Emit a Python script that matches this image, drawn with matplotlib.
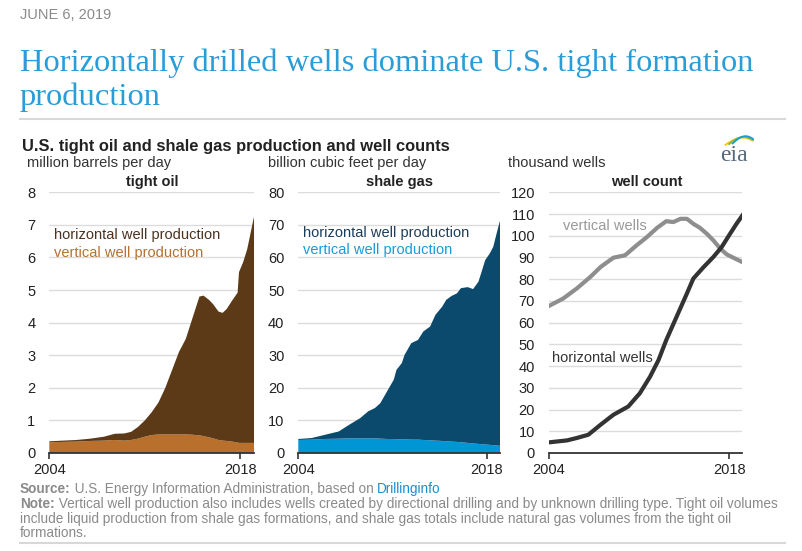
import matplotlib
matplotlib.use("Agg")
import matplotlib.pyplot as plt
import numpy as np

plt.rcParams['font.family'] = ['Liberation Sans', 'DejaVu Sans']

# tight oil, million barrels per day
oil_years = [2004, 2005, 2006, 2007, 2008, 2008.8, 2009.5, 2010, 2010.5, 2011, 2011.5,
             2012, 2012.5, 2013, 2013.5, 2014, 2014.5, 2015, 2015.3, 2015.7, 2016,
             2016.4, 2016.7, 2017, 2017.4, 2017.8, 2017.9, 2018.2, 2018.5, 2018.8, 2019.0]
oil_vertical = [0.33, 0.34, 0.35, 0.37, 0.38, 0.40, 0.38, 0.40, 0.44, 0.50, 0.55,
                0.57, 0.57, 0.57, 0.57, 0.57, 0.56, 0.54, 0.52, 0.48, 0.45,
                0.40, 0.38, 0.37, 0.35, 0.32, 0.31, 0.31, 0.31, 0.31, 0.31]
oil_horizontal = [0.03, 0.04, 0.05, 0.07, 0.12, 0.19, 0.22, 0.25, 0.36, 0.50, 0.70,
                  0.98, 1.43, 1.98, 2.53, 2.93, 3.59, 4.26, 4.31, 4.22, 4.12,
                  3.94, 3.92, 4.05, 4.33, 4.60, 5.24, 5.54, 5.94, 6.54, 6.94]

# shale gas, billion cubic feet per day
gas_years = [2004, 2005, 2006, 2007, 2007.8, 2008.6, 2009.2, 2009.7, 2010.1, 2010.6, 2011.1,
             2011.3, 2011.7, 2011.9, 2012.4, 2012.9, 2013.3, 2013.8, 2014.2, 2014.7, 2015.0,
             2015.4, 2015.8, 2016.1, 2016.6, 2017.0, 2017.4, 2017.6, 2017.9, 2018.25, 2018.5,
             2018.75, 2019.0]
gas_vertical = [4.0, 4.1, 4.3, 4.4, 4.5, 4.5, 4.5, 4.5, 4.4, 4.3, 4.3,
                4.2, 4.2, 4.2, 4.1, 4.1, 4.0, 3.9, 3.8, 3.7, 3.6,
                3.5, 3.4, 3.3, 3.1, 2.9, 2.8, 2.7, 2.6, 2.5, 2.4, 2.3, 2.2]
gas_horizontal = [0.3, 0.5, 1.3, 2.2, 4.2, 6.2, 8.3, 9.3, 10.9, 14.6, 18.2,
                  21.3, 23.4, 25.9, 29.6, 30.6, 33.3, 34.9, 38.6, 41.2, 43.4,
                  44.7, 45.6, 47.3, 47.8, 47.4, 49.8, 52.5, 56.6, 58.8, 60.9, 65.1, 69.1]

# well count, thousand wells
vw_years = [2004, 2005.1, 2006.15, 2007.2, 2008.0, 2009.0, 2009.9, 2010.8, 2011.6, 2012.4,
            2013.1, 2013.65, 2014.2, 2014.7, 2015.2, 2015.7, 2016.25, 2016.75, 2017.3,
            2017.8, 2018.3, 2019.0]
vw_count = [67.7, 71.1, 75.7, 81.0, 85.6, 89.9, 91.0, 95.6, 99.4, 103.7,
            106.7, 106.3, 107.8, 107.8, 105.5, 103.7, 100.9, 97.9, 94.0,
            91.4, 89.9, 87.9]
hw_years = [2004, 2005.4, 2006.15, 2007.05, 2008.0, 2009.0, 2010.15, 2011.05, 2011.85, 2012.5,
            2013.1, 2013.9, 2014.7, 2015.2, 2016.0, 2016.75, 2017.4, 2018.05, 2018.55, 2019.0]
hw_count = [4.9, 5.8, 6.9, 8.4, 13.0, 17.6, 21.4, 27.5, 35.2, 42.8,
            52.0, 62.7, 73.4, 80.3, 85.6, 90.2, 94.8, 100.9, 105.5, 109.3]

W, H = 802, 551
fig = plt.figure(figsize=(W / 100, H / 100), dpi=100)
renderer = fig.canvas.get_renderer()


def fx(x):
    return x / W


def fy(y):
    return 1 - y / H


def chain(x, y, pieces, size):
    # put text pieces one after another on a line
    for s, color, weight in pieces:
        t = fig.text(fx(x), fy(y), s, fontsize=size, color=color, fontweight=weight, va='center')
        x = t.get_window_extent(renderer).x1


def panel(left, right, ymax, step):
    ax = fig.add_axes([fx(left), fy(453), fx(right - left), fy(192.3) - fy(453)])
    ax.set_xlim(2004, 2019.0)
    ax.set_ylim(0, ymax)
    ax.set_yticks(np.arange(0, ymax + 0.001, step))
    ax.set_xticks([2004, 2018])
    ax.set_xticklabels(['2004', '2018'])
    ax.grid(axis='y', color='#dcdcdc', lw=1)
    ax.set_axisbelow(True)
    for s in ['top', 'right', 'left']:
        ax.spines[s].set_visible(False)
    ax.spines['bottom'].set_color('#333333')
    ax.spines['bottom'].set_linewidth(1.3)
    ax.tick_params(axis='y', length=0, pad=10, labelsize=10.5, labelcolor='#222222')
    ax.tick_params(axis='x', length=4, width=1.2, color='#333333', pad=3,
                   labelsize=10.5, labelcolor='#222222')
    return ax


# tight oil
ax1 = panel(49.3, 254, 8, 1)
ax1.stackplot(oil_years, oil_vertical, oil_horizontal,
              colors=['#b8702c', '#5c3a18'], lw=0)

# shale gas
ax2 = panel(298.3, 500, 80, 10)
ax2.stackplot(gas_years, gas_vertical, gas_horizontal,
              colors=['#0096d6', '#0b4a6c'], lw=0)

# well count
ax3 = panel(549, 742.3, 120, 10)
ax3.plot(vw_years, vw_count, color='#8e8e8e', lw=3)
ax3.plot(hw_years, hw_count, color='#333333', lw=3)

# header
fig.text(fx(20), fy(15), 'JUNE 6, 2019', fontsize=10.5, color='#8a8a8a', va='center')
fig.text(fx(20), fy(63), 'Horizontally drilled wells dominate U.S. tight formation',
         family='Liberation Serif', fontsize=23.4, color='#2a9cd8', va='center')
fig.text(fx(20), fy(97), 'production', family='Liberation Serif', fontsize=23.4,
         color='#2a9cd8', va='center')
fig.add_artist(plt.Line2D([fx(20), fx(785)], [fy(119), fy(119)], color='#d8d8d8', lw=1.5))

fig.text(fx(22), fy(146), 'U.S. tight oil and shale gas production and well counts',
         fontsize=11.9, fontweight='bold', color='#222222', va='center')
fig.text(fx(27), fy(163), 'million barrels per day', fontsize=10.5, color='#333333', va='center')
fig.text(fx(268), fy(163), 'billion cubic feet per day', fontsize=10.5, color='#333333', va='center')
fig.text(fx(508), fy(163), 'thousand wells', fontsize=10.5, color='#333333', va='center')
fig.text(fx(152), fy(182), 'tight oil', fontsize=10.5, fontweight='bold', color='#222222',
         ha='center', va='center')
fig.text(fx(400), fy(182), 'shale gas', fontsize=10.5, fontweight='bold', color='#222222',
         ha='center', va='center')
fig.text(fx(647), fy(182), 'well count', fontsize=10.5, fontweight='bold', color='#222222',
         ha='center', va='center')

# eia logo
fig.text(fx(720), fy(156), 'eia', family='Liberation Serif', fontsize=17, color='#56697a',
         va='center')
logo = fig.add_axes([fx(724), fy(146), fx(30), fy(134) - fy(146)])
logo.set_xlim(0, 1)
logo.set_ylim(0, 1)
logo.axis('off')
t = np.linspace(0, 1, 30)
for c, off in [('#f2c21b', 0.0), ('#7dbb42', 0.12), ('#1f9ad6', 0.24)]:
    logo.plot(0.05 + off + 0.9 * t * (1 - off), 0.1 + off * 0.5 + 0.6 * np.sin(np.pi * t * 0.8),
              color=c, lw=1.3)

# in-chart labels
fig.text(fx(54), fy(235), 'horizontal well production', fontsize=10.5, color='#4a3320', va='center')
fig.text(fx(54), fy(253), 'vertical well production', fontsize=10.5, color='#b8702c', va='center')
fig.text(fx(303), fy(233), 'horizontal well production', fontsize=10.5, color='#1c3d5a', va='center')
fig.text(fx(303), fy(250), 'vertical well production', fontsize=10.5, color='#1a9ad6', va='center')
fig.text(fx(563), fy(226), 'vertical wells', fontsize=10.5, color='#999999', va='center')
fig.text(fx(552), fy(358), 'horizontal wells', fontsize=10.5, color='#333333', va='center')

# footer
grey = '#8a8a8a'
fs = 9.85
chain(20, 489, [('Source:', grey, 'bold'),
                (' U.S. Energy Information Administration, based on ', grey, 'normal'),
                ('Drillinginfo', '#1a8fd0', 'normal')], fs)
chain(20, 504, [('Note:', grey, 'bold'),
                (' Vertical well production also includes wells created by directional '
                 'drilling and by unknown drilling type. Tight oil volumes', grey, 'normal')], fs)
fig.text(fx(20), fy(519), 'include liquid production from shale gas formations, and shale gas '
         'totals include natural gas volumes from the tight oil', fontsize=fs,
         color=grey, va='center')
fig.text(fx(20), fy(533), 'formations.', fontsize=fs, color=grey, va='center')
fig.add_artist(plt.Line2D([fx(20), fx(785)], [fy(543), fy(543)], color='#d8d8d8', lw=1.5))

fig.savefig('out.png', dpi=100)
